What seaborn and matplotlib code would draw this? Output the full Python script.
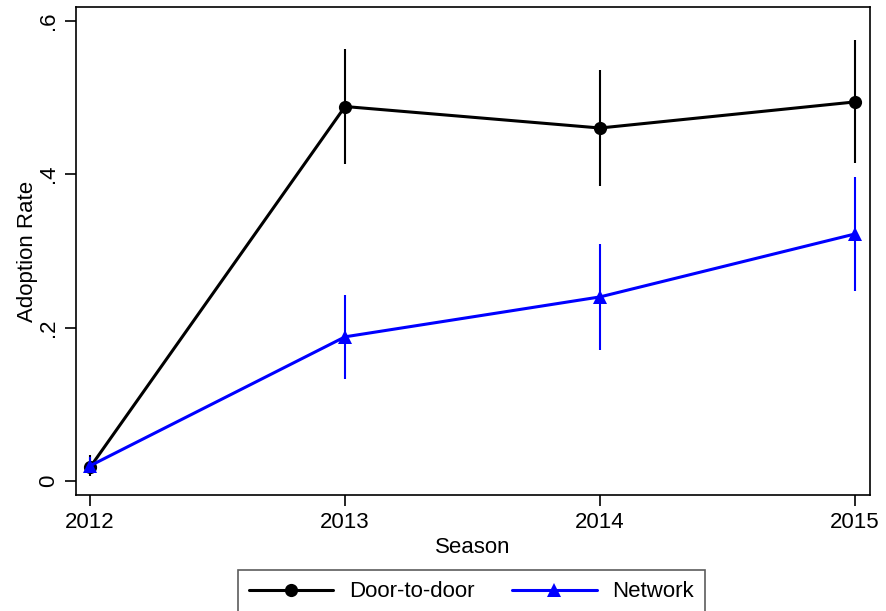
import matplotlib
matplotlib.use("Agg")
import matplotlib.pyplot as plt
from matplotlib.lines import Line2D
import seaborn as sns
import pandas as pd

# Adoption rates by season with 95% confidence bounds
seasons = [2012, 2013, 2014, 2015]
door_rate = [0.018, 0.488, 0.460, 0.494]
door_lo = [0.007, 0.413, 0.384, 0.415]
door_hi = [0.034, 0.563, 0.535, 0.574]
net_rate = [0.020, 0.188, 0.240, 0.322]
net_lo = [0.010, 0.133, 0.171, 0.248]
net_hi = [0.031, 0.242, 0.309, 0.396]
groups = ["Door-to-door", "Network"]
y_ticks = [0, 0.2, 0.4, 0.6]
y_tick_labels = ["0", ".2", ".4", ".6"]

sns.set_theme(style="white")
plt.rcParams["font.family"] = ["Liberation Sans", "DejaVu Sans"]
plt.rcParams["text.color"] = "black"
plt.rcParams["axes.labelcolor"] = "black"
plt.rcParams["xtick.color"] = "black"
plt.rcParams["ytick.color"] = "black"

df = pd.DataFrame({
    "Season": seasons * 2,
    "Rate": door_rate + net_rate,
    "Group": [groups[0]] * 4 + [groups[1]] * 4,
})
colors = {groups[0]: "black", groups[1]: "#0000ff"}
markers = {groups[0]: "o", groups[1]: "^"}

fig = plt.figure(figsize=(8.86, 6.11), dpi=100)
ax = fig.add_axes([0.0858, 0.1899, 0.8962, 0.7986])

# confidence intervals
ax.vlines(seasons, door_lo, door_hi, color="black", lw=1.5, zorder=2)
ax.vlines(seasons, net_lo, net_hi, color="#0000ff", lw=1.5, zorder=2)

sns.lineplot(data=df, x="Season", y="Rate", hue="Group", style="Group",
             palette=colors, markers=markers, dashes=False, lw=2.2,
             markersize=9.5, markeredgewidth=0, ax=ax, legend=False, zorder=3)

ax.set_xlim(2011.945, 2015.059)
ax.set_ylim(-0.018, 0.6176)
ax.set_xticks(seasons)
ax.set_xticklabels([str(s) for s in seasons])
ax.set_yticks(y_ticks)
ax.set_yticklabels(y_tick_labels, rotation=90, va="center")
ax.tick_params(axis="both", labelsize=16, length=8, width=1.2,
               color="black", labelcolor="black", direction="out",
               bottom=True, left=True, pad=4)
ax.set_xlabel("Season", fontsize=16, labelpad=3, color="black")
ax.set_ylabel("Adoption Rate", fontsize=16, labelpad=0, color="black")
for sp in ax.spines.values():
    sp.set_color("black")
    sp.set_linewidth(1.2)

handles = [
    Line2D([], [], color="black", lw=2.2, marker="o", markersize=9.5, markeredgewidth=0),
    Line2D([], [], color="#0000ff", lw=2.2, marker="^", markersize=9.5, markeredgewidth=0),
]
leg = fig.legend(handles, groups, loc="upper center", bbox_to_anchor=(0.532, 0.085),
                 ncol=2, fontsize=16, frameon=True, fancybox=False,
                 handlelength=3.8, handletextpad=0.7, columnspacing=1.7,
                 borderpad=0.5, edgecolor="#333333")
leg.get_frame().set_linewidth(1.2)
for t in leg.get_texts():
    t.set_color("black")

fig.savefig("out.png", dpi=100)
